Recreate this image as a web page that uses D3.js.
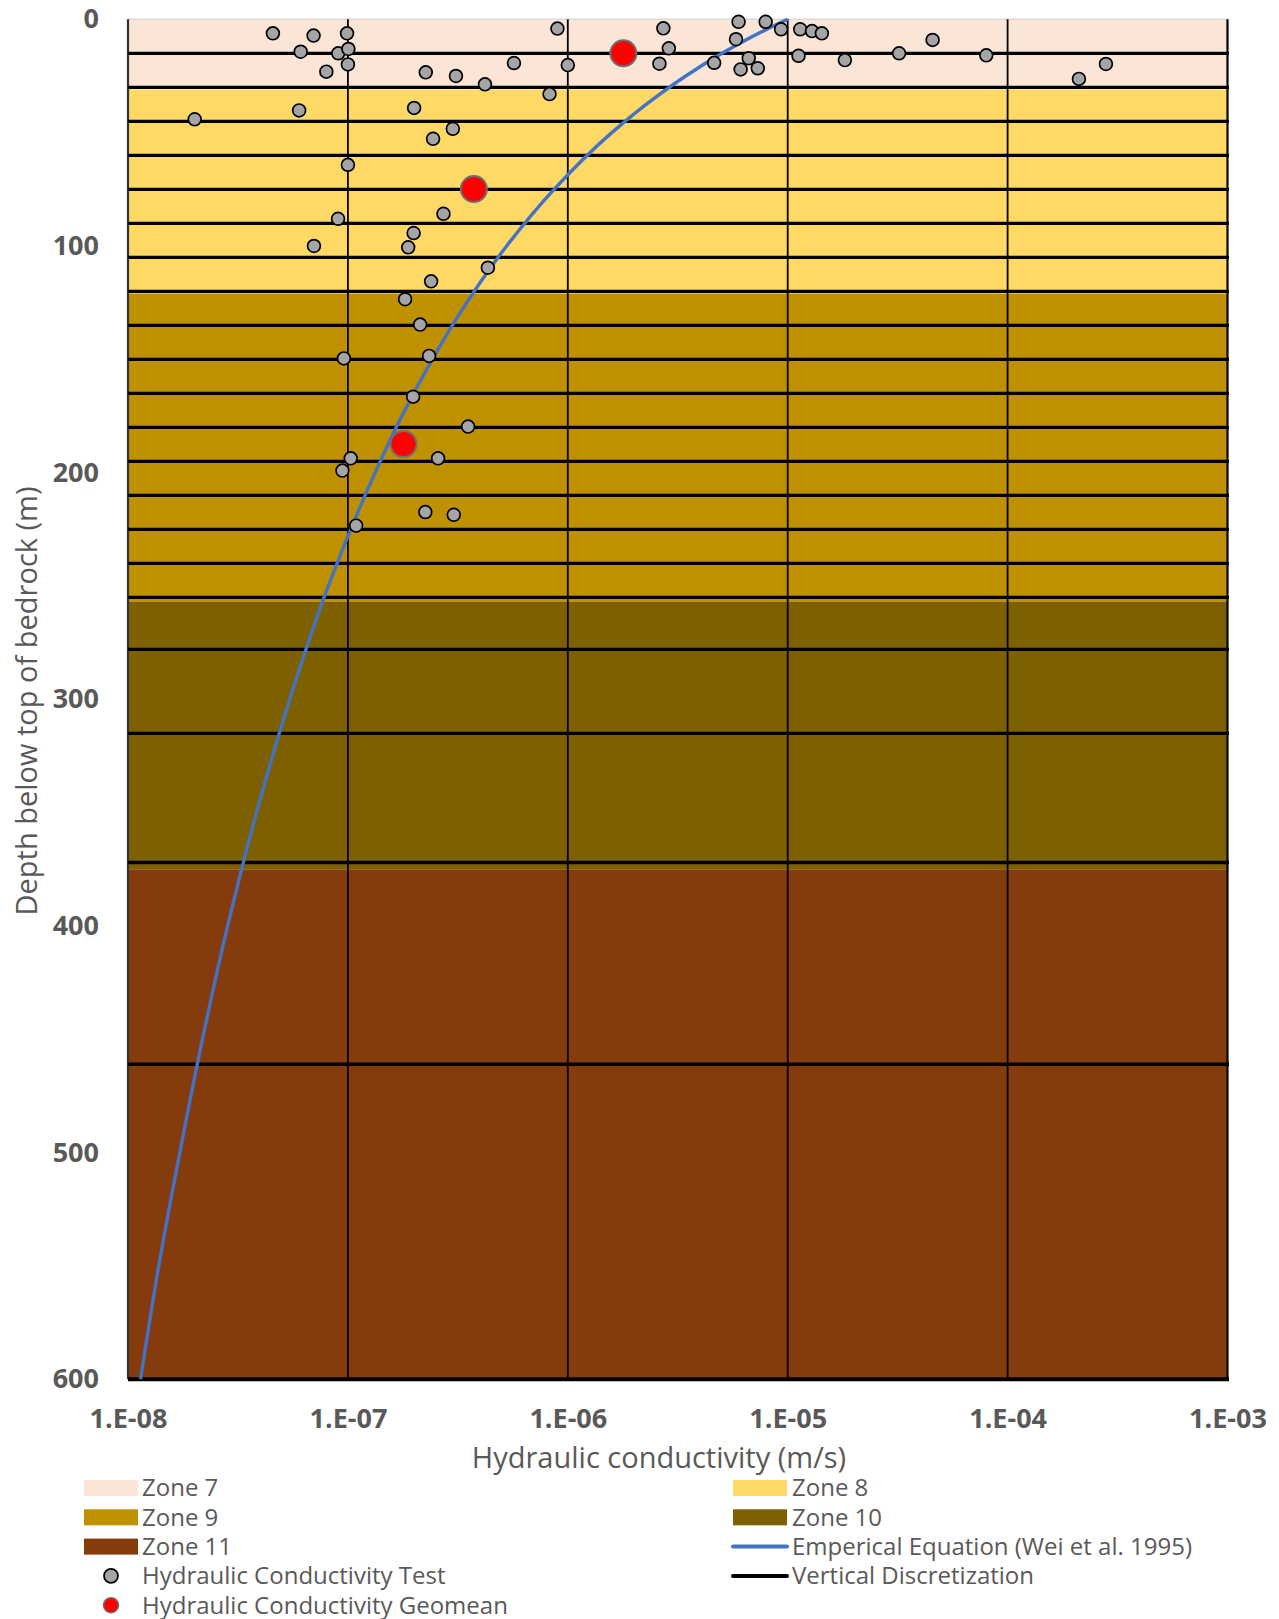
<!DOCTYPE html>
<html>
<head>
<meta charset="utf-8">
<script src="https://cdn.jsdelivr.net/npm/d3@7"></script>
<style>
  html, body { margin: 0; padding: 0; background: #ffffff; }
  svg { display: block; }
</style>
</head>
<body>
<div id="chart"></div>
<script>
// ---------------- DATA ----------------
const xTickValues = [1e-8, 1e-7, 1e-6, 1e-5, 1e-4, 1e-3];
const xTickLabels = ["1.E-08", "1.E-07", "1.E-06", "1.E-05", "1.E-04", "1.E-03"];
const yTickValues = [0, 100, 200, 300, 400, 500, 600];

const zoneNames  = ["Zone 7", "Zone 8", "Zone 9", "Zone 10", "Zone 11"];
const zoneTop    = [0, 31, 121, 257, 375];
const zoneBottom = [31, 121, 257, 375, 600];
const zoneColors = ["#FBE5D6", "#FFD966", "#BF9000", "#7F6000", "#843C0C"];

const discretizationDepths = [15, 30, 45, 60, 75, 90, 105, 120, 135, 150, 165, 180, 195,
  210, 225, 240, 255, 278, 315, 372, 461];

const curveDepth = [0, 5, 10, 15, 25, 35, 50, 75, 100, 125, 150, 175, 200, 250, 300, 350, 400, 450, 500, 550, 600];
const curveK = [1.00e-5, 7.81e-6, 6.21e-6, 5.03e-6, 3.44e-6, 2.46e-6, 1.585e-6, 8.66e-7, 5.27e-7, 3.47e-7,
  2.42e-7, 1.76e-7, 1.33e-7, 8.15e-8, 5.44e-8, 3.84e-8, 2.84e-8, 2.18e-8, 1.72e-8, 1.38e-8, 1.14e-8];

// Hydraulic conductivity tests
const testK = [
  4.56e-8, 6.98e-8, 9.91e-8, 6.10e-8, 9.04e-8, 1.005e-7, 1.0e-7, 7.98e-8, 2.26e-7, 3.10e-7,
  4.20e-7, 5.69e-7, 8.97e-7, 1.0e-6, 8.26e-7, 2.72e-6, 2.88e-6, 2.61e-6, 4.63e-6, 5.98e-6,
  5.82e-6, 6.65e-6, 6.11e-6, 7.31e-6, 7.94e-6, 9.33e-6, 1.14e-5, 1.29e-5, 1.43e-5, 1.12e-5,
  1.82e-5, 3.21e-5, 4.56e-5, 8.00e-5, 2.11e-4, 2.80e-4,
  2.01e-8, 6.00e-8, 2.00e-7, 3.00e-7, 2.44e-7, 1.0e-7, 2.72e-7, 9.02e-8, 1.99e-7, 7.01e-8,
  1.88e-7, 4.33e-7, 2.39e-7, 1.82e-7, 2.13e-7, 9.59e-8, 2.34e-7, 1.98e-7, 3.52e-7, 1.03e-7,
  2.57e-7, 9.44e-8, 2.25e-7, 3.03e-7, 1.09e-7];
const testDepth = [
  6.2, 7.2, 6.2, 14.3, 15.0, 13.1, 19.9, 23.1, 23.4, 25.0,
  28.7, 19.3, 4.1, 20.2, 33.0, 4.0, 12.8, 19.6, 19.2, 1.1,
  8.8, 17.2, 22.1, 21.6, 1.1, 4.4, 4.4, 5.2, 6.2, 16.1,
  18.0, 15.0, 9.1, 15.9, 26.3, 19.7,
  44.1, 40.2, 39.1, 48.3, 52.7, 64.2, 85.8, 88.0, 94.3, 100.0,
  100.6, 109.6, 115.6, 123.5, 134.7, 149.6, 148.5, 166.5, 179.7, 193.7,
  193.7, 199.1, 217.4, 218.6, 223.4];

// Geomeans
const geoK = [1.79e-6, 3.74e-7, 1.79e-7];
const geoDepth = [15.0, 74.9, 187.4];

const legendLabels = ["Zone 7", "Zone 8", "Zone 9", "Zone 10", "Zone 11",
  "Emperical Equation (Wei et al. 1995)", "Hydraulic Conductivity Test",
  "Vertical Discretization", "Hydraulic Conductivity Geomean"];

// ---------------- LAYOUT ----------------
const W = 1279, H = 1619;
const plotL = 128, plotR = 1227.5, plotT = 19.3, plotB = 1379.3;
const FONT = "'Open Sans', 'Noto Sans', sans-serif";
const GREY_TXT = "#595959";

const svg = d3.select("#chart").append("svg")
  .attr("width", W).attr("height", H)
  .style("font-family", FONT);

const x = d3.scaleLog().domain([1e-8, 1e-3]).range([plotL, plotR]);
const y = d3.scaleLinear().domain([0, 600]).range([plotT, plotB]);

// zones
const zones = zoneNames.map((n, i) => ({ name: n, t: zoneTop[i], b: zoneBottom[i], c: zoneColors[i] }));
svg.append("g").selectAll("rect").data(zones).join("rect")
  .attr("x", x(1e-8)).attr("width", x(1e-3) - x(1e-8))
  .attr("y", d => y(d.t)).attr("height", d => y(d.b) - y(d.t))
  .attr("fill", d => d.c);

// top border
svg.append("line").attr("x1", x(1e-8)).attr("x2", x(1e-3))
  .attr("y1", y(0)).attr("y2", y(0)).attr("stroke", "#D9D9D9").attr("stroke-width", 1.5);

// vertical gridlines
svg.append("g").selectAll("line").data(xTickValues).join("line")
  .attr("x1", d => x(d)).attr("x2", d => x(d))
  .attr("y1", y(0)).attr("y2", y(600))
  .attr("stroke", (d, i) => i === 0 ? "#333333" : "#000")
  .attr("stroke-width", (d, i) => (i === 0 || i === xTickValues.length - 1) ? 2.2 : 1.8);

// discretization lines
svg.append("g").selectAll("line").data(discretizationDepths).join("line")
  .attr("x1", x(1e-8)).attr("x2", x(1e-3) + 1.5)
  .attr("y1", d => y(d)).attr("y2", d => y(d))
  .attr("stroke", "#000").attr("stroke-width", 3.3);

// bottom axis line
svg.append("line").attr("x1", x(1e-8)).attr("x2", x(1e-3) + 1.5)
  .attr("y1", y(600)).attr("y2", y(600)).attr("stroke", "#000").attr("stroke-width", 4);

// empirical curve
const curvePts = curveDepth.map((d, i) => [curveK[i], d]);
svg.append("path").datum(curvePts)
  .attr("fill", "none").attr("stroke", "#4472C4").attr("stroke-width", 3.4)
  .attr("d", d3.line().x(d => x(d[0])).y(d => y(d[1])).curve(d3.curveMonotoneY));

// test points
svg.append("g").selectAll("circle").data(testK.map((k, i) => [k, testDepth[i]])).join("circle")
  .attr("cx", d => x(d[0])).attr("cy", d => y(d[1])).attr("r", 6.4)
  .attr("fill", "#A5A5A5").attr("stroke", "#000").attr("stroke-width", 1.7);

// geomean points
svg.append("g").selectAll("circle").data(geoK.map((k, i) => [k, geoDepth[i]])).join("circle")
  .attr("cx", d => x(d[0])).attr("cy", d => y(d[1])).attr("r", 13)
  .attr("fill", "#FF0000").attr("stroke", "#6F6F6F").attr("stroke-width", 2);

// axes
const xAxis = d3.axisBottom(x).tickValues(xTickValues)
  .tickFormat((d, i) => xTickLabels[i]).tickSize(0).tickPadding(30);
const gx = svg.append("g").attr("transform", `translate(0,${y(600)})`).call(xAxis);
gx.select(".domain").remove();
gx.selectAll("text").attr("fill", GREY_TXT).style("font-family", FONT)
  .style("font-size", "27px").style("font-weight", "bold");

const yAxis = d3.axisLeft(y).tickValues(yTickValues).tickFormat(d3.format("d")).tickSize(0).tickPadding(29);
const gy = svg.append("g").attr("transform", `translate(${plotL},0)`).call(yAxis);
gy.select(".domain").remove();
gy.selectAll("text").attr("fill", GREY_TXT).style("font-family", FONT)
  .style("font-size", "27px").style("font-weight", "bold");

// axis titles
svg.append("text").attr("x", 659).attr("y", 1468)
  .attr("text-anchor", "middle").attr("fill", GREY_TXT)
  .style("font-size", "29px").text("Hydraulic conductivity (m/s)");
svg.append("text").attr("transform", `translate(37,${701}) rotate(-90)`)
  .attr("text-anchor", "middle").attr("fill", GREY_TXT)
  .style("font-size", "29px").text("Depth below top of bedrock (m)");

// legend
const legX = [84, 733], legTextX = [142, 792];
const legY0 = 1488, legDY = 29.3;
const legItems = legendLabels.map((label, i) => {
  let type, color;
  if (i < 5) { type = "rect"; color = zoneColors[i]; }
  else if (i === 5) { type = "line"; color = "#4472C4"; }
  else if (i === 6) { type = "dot"; color = "#A5A5A5"; }
  else if (i === 7) { type = "line"; color = "#000"; }
  else { type = "geo"; color = "#FF0000"; }
  return { label, type, color, col: i % 2, row: Math.floor(i / 2) };
});
const lg = svg.append("g").selectAll("g").data(legItems).join("g")
  .attr("transform", d => `translate(0,${legY0 + d.row * legDY})`);
lg.filter(d => d.type === "rect").append("rect")
  .attr("x", d => legX[d.col]).attr("y", -8).attr("width", 54).attr("height", 16)
  .attr("fill", d => d.color);
lg.filter(d => d.type === "line").append("line")
  .attr("x1", d => legX[d.col]).attr("x2", d => legX[d.col] + 54)
  .attr("y1", 0).attr("y2", 0).attr("stroke", d => d.color).attr("stroke-width", 4)
  .attr("stroke-linecap", "round");
lg.filter(d => d.type === "dot").append("circle")
  .attr("cx", d => legX[d.col] + 27).attr("cy", 0).attr("r", 7)
  .attr("fill", "#A5A5A5").attr("stroke", "#000").attr("stroke-width", 1.7);
lg.filter(d => d.type === "geo").append("circle")
  .attr("cx", d => legX[d.col] + 27).attr("cy", 0).attr("r", 7.5)
  .attr("fill", "#FF0000").attr("stroke", "#6F6F6F").attr("stroke-width", 1.5);
lg.append("text").attr("x", d => legTextX[d.col]).attr("y", 0).attr("dy", "0.35em")
  .attr("fill", GREY_TXT).style("font-size", "24px").text(d => d.label);
</script>
</body>
</html>
